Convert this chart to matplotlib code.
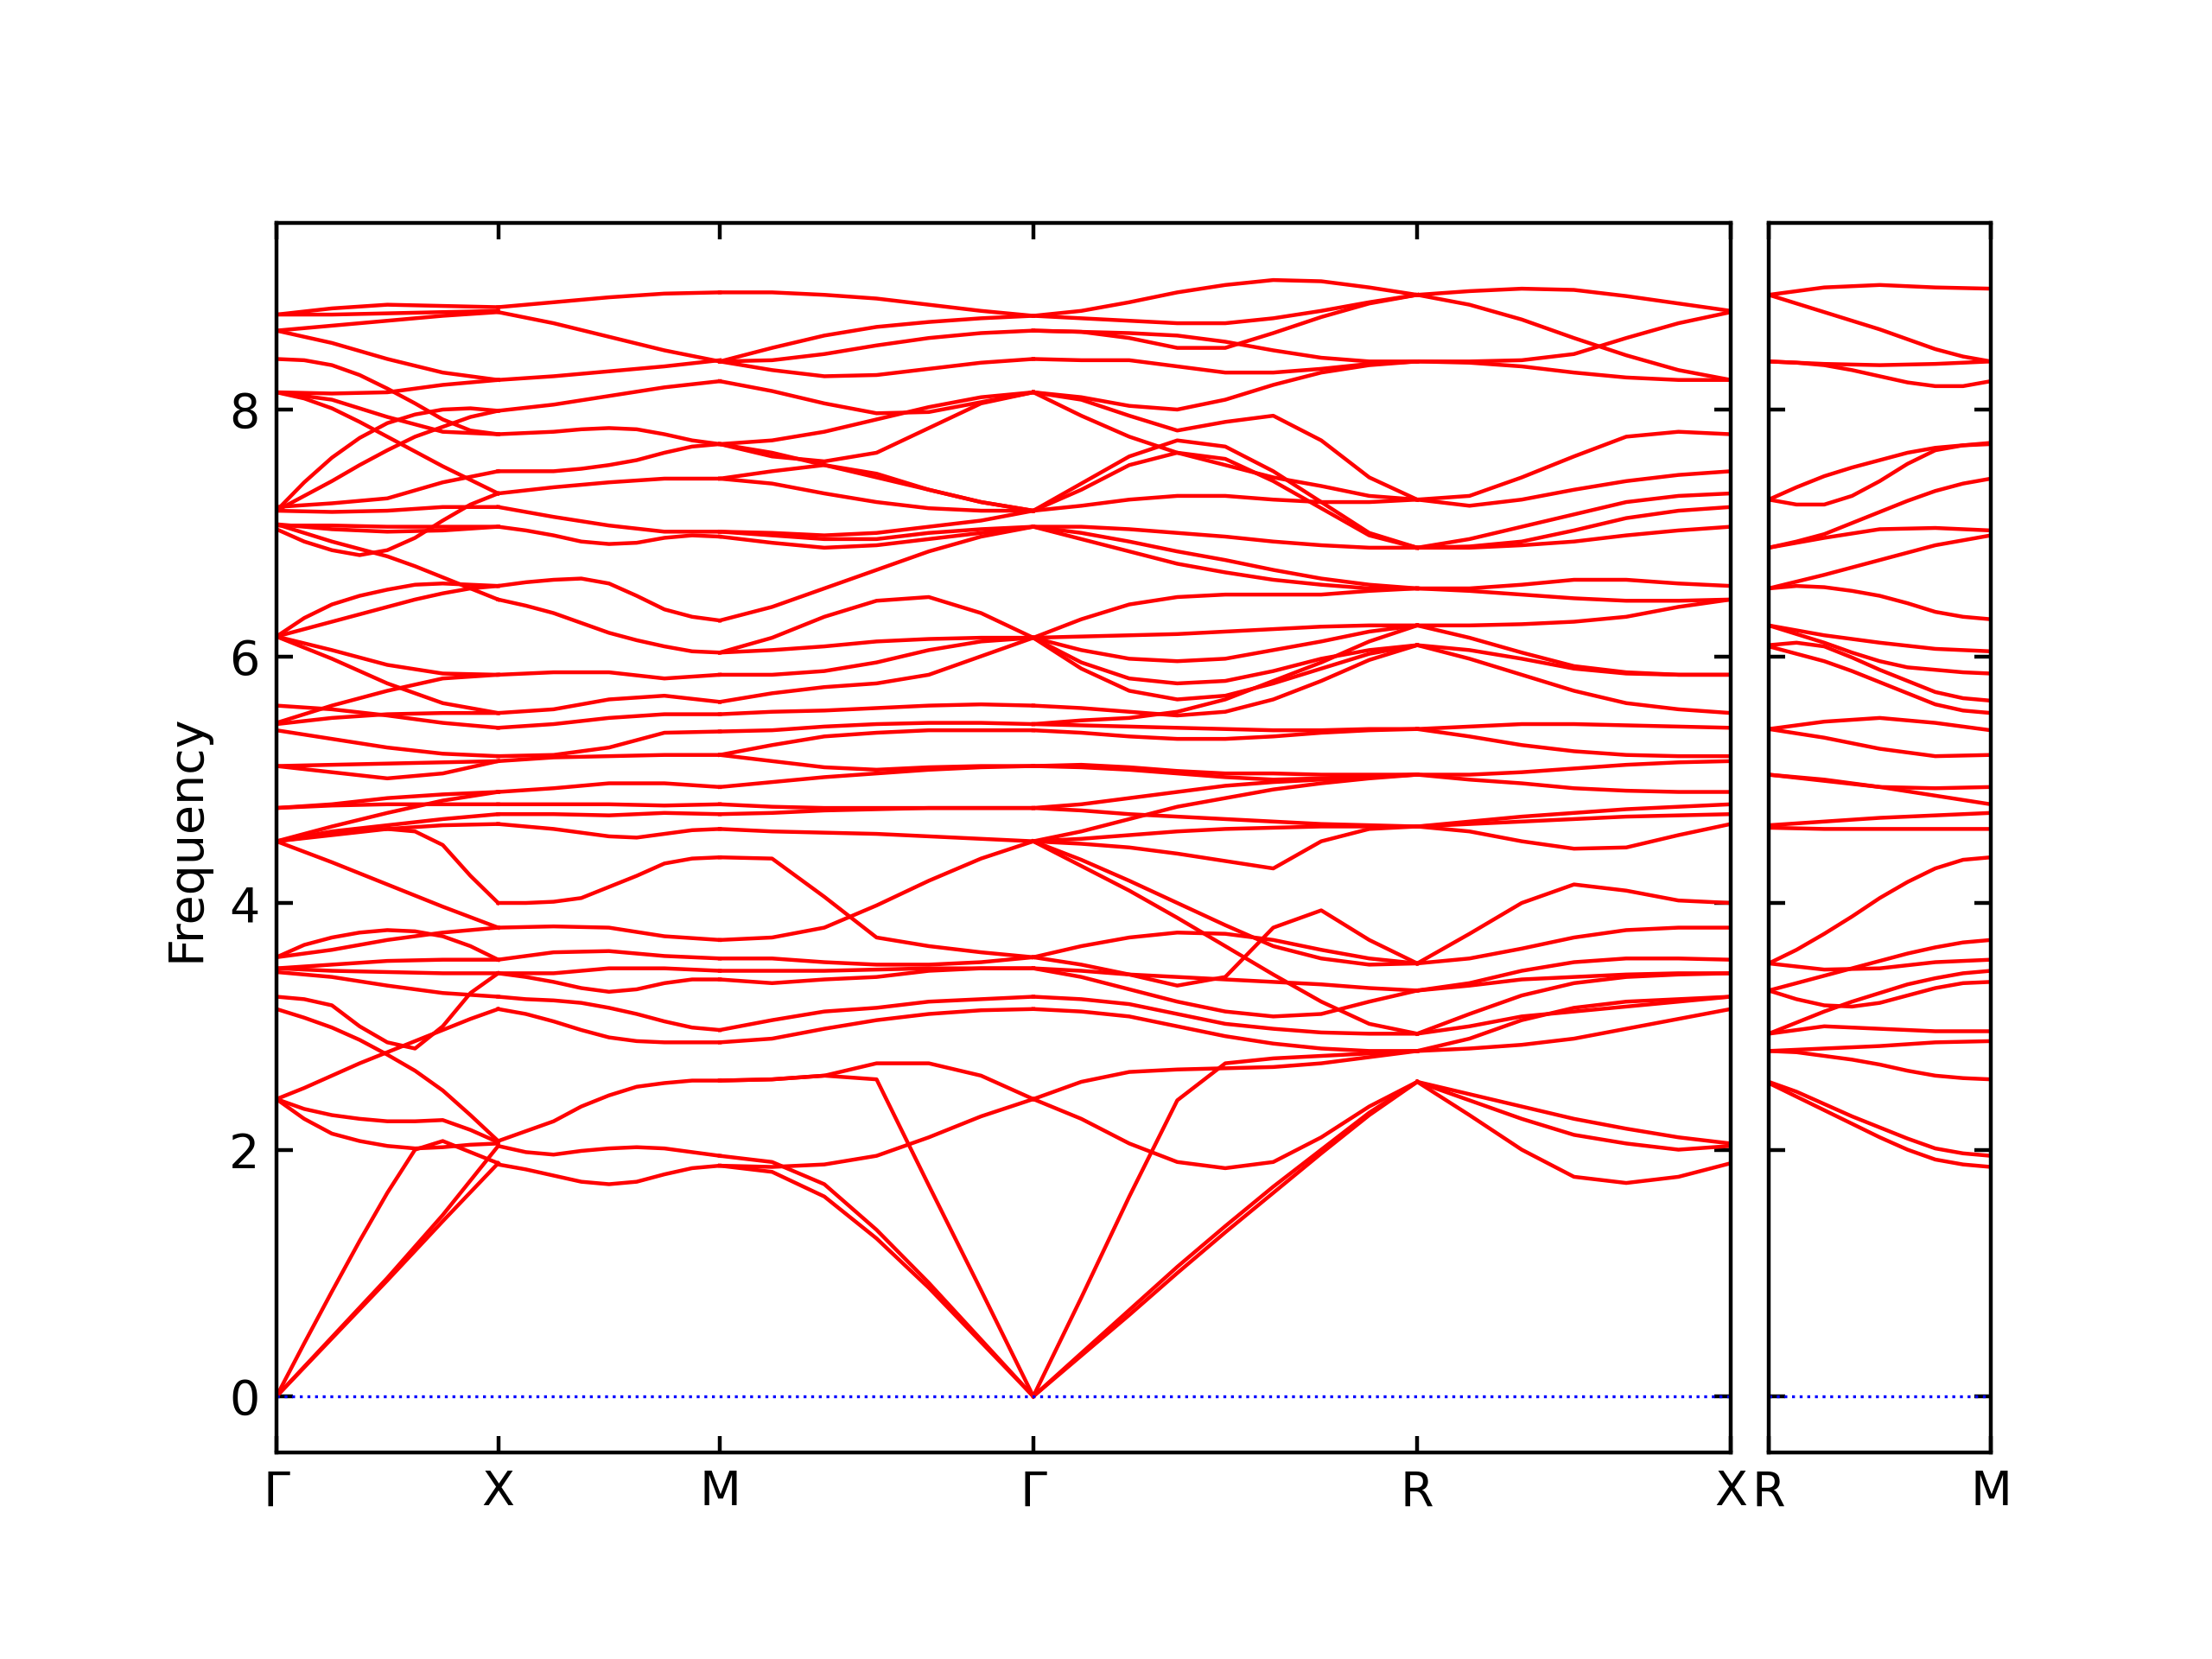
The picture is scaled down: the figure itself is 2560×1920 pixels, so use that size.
import numpy as np
import matplotlib
matplotlib.use('Agg')
import matplotlib.pyplot as plt

# high symmetry path, segment lengths in units of 2pi/a
path_labels = ['Γ', 'X', 'M', 'Γ', 'R', 'X']
seg_len = [1.0, 1.0, np.sqrt(2), np.sqrt(3), np.sqrt(2)]

# band frequencies read along each segment at even steps
gx_bands = [
    [8.77, 8.82, 8.85, 8.84, 8.83],
    [8.77, 8.77, 8.78, 8.79, 8.80],
    [8.64, 8.68, 8.72, 8.76, 8.79],
    [8.64, 8.54, 8.41, 8.30, 8.24],
    [8.41, 8.40, 8.36, 8.28, 8.17, 8.05, 7.92, 7.83, 7.80],
    [8.14, 8.13, 8.14, 8.20, 8.24],
    [8.14, 8.08, 7.94, 7.82, 7.80],
    [8.14, 8.09, 8.01, 7.90, 7.78, 7.66, 7.54, 7.43, 7.32],
    [7.18, 7.41, 7.61, 7.77, 7.89, 7.96, 8.00, 8.01, 7.99],
    [7.18, 7.30, 7.42, 7.55, 7.67, 7.78, 7.86, 7.94, 7.99],
    [7.21, 7.24, 7.28, 7.41, 7.50],
    [7.18, 7.17, 7.18, 7.21, 7.21],
    [7.07, 7.03, 7.01, 7.02, 7.05],
    [7.03, 6.93, 6.86, 6.82, 6.86, 6.96, 7.10, 7.23, 7.32],
    [7.07, 7.00, 6.93, 6.87, 6.81, 6.73, 6.64, 6.55, 6.46],
    [7.06, 7.06, 7.05, 7.05, 7.05],
    [6.16, 6.31, 6.42, 6.49, 6.54, 6.58, 6.59, 6.58, 6.57],
    [6.16, 6.22, 6.28, 6.34, 6.40, 6.46, 6.51, 6.55, 6.57],
    [6.16, 6.05, 5.93, 5.86, 5.85],
    [6.16, 5.98, 5.78, 5.62, 5.54],
    [5.60, 5.57, 5.52, 5.46, 5.42],
    [5.46, 5.60, 5.72, 5.82, 5.85],
    [5.45, 5.50, 5.53, 5.54, 5.54],
    [5.40, 5.33, 5.26, 5.21, 5.19],
    [5.11, 5.12, 5.13, 5.14, 5.15],
    [5.11, 5.06, 5.01, 5.05, 5.15],
    [4.77, 4.80, 4.85, 4.88, 4.90],
    [4.77, 4.79, 4.80, 4.80, 4.80],
    [4.50, 4.62, 4.73, 4.83, 4.90],
    [4.50, 4.55, 4.60, 4.63, 4.64],
    [4.50, 4.58, 4.63, 4.68, 4.72],
    [4.50, 4.53, 4.57, 4.59, 4.60, 4.58, 4.47, 4.22, 4.00],
    [4.50, 4.33, 4.15, 3.97, 3.80],
    [3.56, 3.66, 3.72, 3.76, 3.78, 3.77, 3.73, 3.65, 3.54],
    [3.56, 3.62, 3.70, 3.76, 3.80],
    [3.47, 3.50, 3.53, 3.54, 3.54],
    [3.47, 3.45, 3.44, 3.43, 3.43],
    [3.44, 3.40, 3.33, 3.27, 3.24],
    [3.24, 3.22, 3.17, 3.00, 2.87, 2.82, 3.00, 3.27, 3.43],
    [3.14, 3.07, 2.99, 2.89, 2.77, 2.64, 2.48, 2.28, 2.07],
    [2.41, 2.50, 2.60, 2.70, 2.79, 2.88, 2.97, 3.06, 3.14],
    [2.41, 2.33, 2.28, 2.25, 2.23, 2.23, 2.24, 2.16, 2.06],
    [2.41, 2.25, 2.13, 2.07, 2.03, 2.01, 2.02, 2.04, 2.05],
    [0.00, 0.43, 0.85, 1.26, 1.65, 2.00, 2.07, 1.98, 1.89],
    [0.00, 0.47, 0.94, 1.42, 1.89],
    [0.00, 0.48, 0.96, 1.47, 2.03],
]

xm_bands = [
    [8.83, 8.87, 8.91, 8.94, 8.95],
    [8.79, 8.70, 8.59, 8.48, 8.39],
    [8.24, 8.27, 8.31, 8.35, 8.40],
    [7.99, 8.04, 8.11, 8.18, 8.23],
    [7.80, 7.81, 7.82, 7.84, 7.85, 7.84, 7.80, 7.75, 7.72],
    [7.50, 7.50, 7.50, 7.52, 7.55, 7.59, 7.65, 7.70, 7.72],
    [7.32, 7.37, 7.41, 7.44, 7.44],
    [7.21, 7.13, 7.06, 7.01, 7.01],
    [7.05, 7.02, 6.98, 6.93, 6.91, 6.92, 6.96, 6.98, 6.97],
    [6.57, 6.60, 6.62, 6.63, 6.59, 6.49, 6.38, 6.32, 6.29],
    [6.46, 6.41, 6.35, 6.27, 6.19, 6.13, 6.08, 6.04, 6.03],
    [5.85, 5.87, 5.87, 5.82, 5.85],
    [5.54, 5.57, 5.65, 5.68, 5.63],
    [5.42, 5.45, 5.50, 5.53, 5.53],
    [5.19, 5.20, 5.26, 5.38, 5.39],
    [5.15, 5.18, 5.19, 5.20, 5.20],
    [4.90, 4.93, 4.97, 4.97, 4.94],
    [4.80, 4.80, 4.80, 4.79, 4.80],
    [4.72, 4.72, 4.71, 4.73, 4.72],
    [4.64, 4.62, 4.60, 4.57, 4.54, 4.53, 4.56, 4.59, 4.60],
    [4.00, 4.00, 4.01, 4.04, 4.13, 4.22, 4.32, 4.36, 4.37],
    [3.80, 3.81, 3.80, 3.73, 3.70],
    [3.54, 3.60, 3.61, 3.57, 3.55],
    [3.43, 3.43, 3.47, 3.47, 3.45],
    [3.43, 3.40, 3.36, 3.31, 3.28, 3.30, 3.35, 3.38, 3.38],
    [3.24, 3.22, 3.21, 3.19, 3.15, 3.10, 3.04, 2.99, 2.97],
    [3.14, 3.10, 3.04, 2.97, 2.91, 2.88, 2.87, 2.87, 2.87],
    [2.07, 2.15, 2.23, 2.35, 2.44, 2.51, 2.54, 2.56, 2.56],
    [2.03, 1.98, 1.96, 1.99, 2.01, 2.02, 2.01, 1.98, 1.95],
    [1.88, 1.84, 1.79, 1.74, 1.72, 1.74, 1.80, 1.85, 1.87],
]

mg_bands = [
    [8.95, 8.95, 8.93, 8.90, 8.85, 8.80, 8.76],
    [8.39, 8.50, 8.60, 8.67, 8.71, 8.74, 8.76],
    [8.39, 8.40, 8.45, 8.52, 8.58, 8.62, 8.64],
    [8.39, 8.32, 8.27, 8.28, 8.33, 8.38, 8.41],
    [8.23, 8.15, 8.05, 7.97, 7.98, 8.06, 8.14],
    [7.72, 7.75, 7.82, 7.92, 8.02, 8.10, 8.14],
    [7.72, 7.62, 7.58, 7.65, 7.85, 8.05, 8.14],
    [7.72, 7.65, 7.55, 7.45, 7.35, 7.25, 7.18],
    [7.44, 7.50, 7.55, 7.48, 7.35, 7.25, 7.18],
    [7.44, 7.40, 7.32, 7.25, 7.20, 7.18, 7.18],
    [7.01, 7.00, 6.98, 7.00, 7.05, 7.10, 7.18],
    [6.97, 6.92, 6.88, 6.90, 6.95, 7.00, 7.05],
    [7.01, 6.98, 6.95, 6.95, 7.00, 7.03, 7.05],
    [6.29, 6.40, 6.55, 6.70, 6.85, 6.97, 7.05],
    [6.03, 6.05, 6.08, 6.12, 6.14, 6.15, 6.15],
    [6.03, 6.15, 6.32, 6.45, 6.48, 6.35, 6.15],
    [5.85, 5.85, 5.88, 5.95, 6.05, 6.12, 6.15],
    [5.63, 5.70, 5.75, 5.78, 5.85, 6.00, 6.15],
    [5.53, 5.55, 5.56, 5.58, 5.60, 5.61, 5.60],
    [5.39, 5.40, 5.43, 5.45, 5.46, 5.46, 5.45],
    [5.20, 5.28, 5.35, 5.38, 5.40, 5.40, 5.40],
    [5.20, 5.15, 5.10, 5.08, 5.10, 5.11, 5.11],
    [4.94, 4.98, 5.02, 5.05, 5.08, 5.10, 5.11],
    [4.80, 4.78, 4.77, 4.77, 4.77, 4.77, 4.77],
    [4.72, 4.73, 4.75, 4.76, 4.77, 4.77, 4.77],
    [4.60, 4.58, 4.57, 4.56, 4.54, 4.52, 4.50],
    [4.37, 4.36, 4.05, 3.72, 3.65, 3.60, 3.56],
    [3.70, 3.72, 3.80, 3.98, 4.18, 4.36, 4.50],
    [3.55, 3.55, 3.52, 3.50, 3.50, 3.52, 3.56],
    [3.45, 3.45, 3.45, 3.46, 3.47, 3.47, 3.47],
    [3.38, 3.35, 3.38, 3.40, 3.45, 3.47, 3.47],
    [2.97, 3.05, 3.12, 3.15, 3.20, 3.22, 3.24],
    [2.87, 2.90, 2.98, 3.05, 3.10, 3.13, 3.14],
    [2.56, 2.57, 2.60, 2.70, 2.70, 2.60, 2.41],
    [2.56, 2.57, 2.60, 2.57, 1.71, 0.86, 0.00],
    [1.87, 1.86, 1.88, 1.95, 2.10, 2.27, 2.41],
    [1.95, 1.90, 1.72, 1.35, 0.92, 0.46, 0.00],
    [1.87, 1.82, 1.62, 1.28, 0.88, 0.44, 0.00],
]

gr_bands = [
    [8.76, 8.80, 8.87, 8.95, 9.01, 9.05, 9.04, 8.99, 8.93],
    [8.76, 8.74, 8.72, 8.70, 8.70, 8.74, 8.80, 8.87, 8.93],
    [8.64, 8.63, 8.58, 8.50, 8.50, 8.62, 8.75, 8.86, 8.93],
    [8.64, 8.63, 8.62, 8.60, 8.55, 8.48, 8.42, 8.39, 8.39],
    [8.41, 8.40, 8.40, 8.35, 8.30, 8.30, 8.33, 8.37, 8.39],
    [8.14, 8.10, 8.03, 8.00, 8.08, 8.20, 8.30, 8.36, 8.39],
    [8.14, 8.08, 7.95, 7.83, 7.90, 7.95, 7.75, 7.45, 7.27],
    [8.14, 7.95, 7.78, 7.65, 7.55, 7.45, 7.38, 7.30, 7.27],
    [7.18, 7.40, 7.62, 7.75, 7.70, 7.50, 7.25, 7.00, 6.88],
    [7.18, 7.35, 7.55, 7.65, 7.60, 7.42, 7.20, 6.98, 6.88],
    [7.18, 7.22, 7.27, 7.30, 7.30, 7.27, 7.25, 7.25, 7.27],
    [7.05, 7.05, 7.03, 7.00, 6.97, 6.93, 6.90, 6.88, 6.88],
    [7.05, 7.00, 6.93, 6.85, 6.78, 6.70, 6.63, 6.58, 6.55],
    [7.05, 6.95, 6.85, 6.75, 6.68, 6.62, 6.58, 6.55, 6.55],
    [6.15, 6.30, 6.42, 6.48, 6.50, 6.50, 6.50, 6.53, 6.55],
    [6.15, 6.16, 6.17, 6.18, 6.20, 6.22, 6.24, 6.25, 6.25],
    [6.15, 6.05, 5.98, 5.96, 5.98, 6.05, 6.12, 6.20, 6.25],
    [6.15, 5.95, 5.82, 5.78, 5.80, 5.88, 5.98, 6.05, 6.09],
    [6.15, 5.90, 5.72, 5.65, 5.68, 5.78, 5.90, 6.02, 6.09],
    [5.60, 5.58, 5.55, 5.52, 5.55, 5.65, 5.80, 5.97, 6.09],
    [5.45, 5.48, 5.50, 5.55, 5.65, 5.80, 5.95, 6.12, 6.25],
    [5.45, 5.44, 5.43, 5.42, 5.41, 5.40, 5.40, 5.41, 5.41],
    [5.40, 5.38, 5.35, 5.33, 5.33, 5.35, 5.38, 5.40, 5.41],
    [5.11, 5.10, 5.08, 5.05, 5.02, 5.00, 5.01, 5.03, 5.04],
    [5.11, 5.12, 5.10, 5.07, 5.05, 5.05, 5.04, 5.04, 5.04],
    [4.77, 4.80, 4.85, 4.90, 4.95, 4.98, 5.00, 5.02, 5.04],
    [4.77, 4.75, 4.72, 4.70, 4.68, 4.66, 4.64, 4.63, 4.62],
    [4.50, 4.58, 4.68, 4.78, 4.85, 4.92, 4.97, 5.01, 5.04],
    [4.50, 4.52, 4.55, 4.58, 4.60, 4.61, 4.62, 4.62, 4.62],
    [4.50, 4.48, 4.45, 4.40, 4.34, 4.28, 4.50, 4.60, 4.62],
    [4.50, 4.35, 4.18, 4.00, 3.82, 3.65, 3.55, 3.50, 3.51],
    [4.50, 4.30, 4.10, 3.88, 3.65, 3.42, 3.20, 3.02, 2.94],
    [3.56, 3.65, 3.72, 3.76, 3.75, 3.70, 3.62, 3.55, 3.51],
    [3.56, 3.50, 3.42, 3.33, 3.40, 3.80, 3.94, 3.70, 3.51],
    [3.47, 3.45, 3.42, 3.40, 3.38, 3.36, 3.34, 3.31, 3.29],
    [3.47, 3.40, 3.30, 3.20, 3.12, 3.08, 3.10, 3.20, 3.29],
    [3.24, 3.22, 3.18, 3.10, 3.02, 2.98, 2.95, 2.94, 2.94],
    [3.14, 3.12, 3.08, 3.00, 2.92, 2.86, 2.82, 2.80, 2.80],
    [2.41, 2.55, 2.63, 2.65, 2.66, 2.67, 2.70, 2.75, 2.80],
    [2.41, 2.25, 2.05, 1.90, 1.85, 1.90, 2.10, 2.35, 2.55],
    [0.00, 0.80, 1.62, 2.40, 2.70, 2.74, 2.76, 2.78, 2.80],
    [0.00, 0.35, 0.70, 1.05, 1.38, 1.70, 2.00, 2.30, 2.55],
    [0.00, 0.33, 0.66, 1.00, 1.33, 1.65, 1.97, 2.28, 2.55],
]

rx_bands = [
    [8.93, 8.96, 8.98, 8.97, 8.92, 8.86, 8.80],
    [8.93, 8.85, 8.73, 8.58, 8.44, 8.32, 8.24],
    [8.39, 8.39, 8.40, 8.45, 8.58, 8.70, 8.79],
    [8.39, 8.38, 8.35, 8.30, 8.26, 8.24, 8.24],
    [7.27, 7.30, 7.45, 7.62, 7.78, 7.82, 7.80],
    [7.27, 7.22, 7.27, 7.35, 7.42, 7.47, 7.50],
    [6.88, 6.89, 6.93, 7.02, 7.12, 7.18, 7.21],
    [6.88, 6.95, 7.05, 7.15, 7.25, 7.30, 7.32],
    [6.88, 6.88, 6.90, 6.93, 6.98, 7.02, 7.05],
    [6.55, 6.55, 6.58, 6.62, 6.62, 6.59, 6.57],
    [6.55, 6.53, 6.50, 6.47, 6.45, 6.45, 6.46],
    [6.25, 6.25, 6.26, 6.28, 6.32, 6.40, 6.46],
    [6.25, 6.15, 6.03, 5.92, 5.87, 5.85, 5.85],
    [6.09, 6.05, 5.98, 5.90, 5.86, 5.85, 5.85],
    [6.09, 5.98, 5.85, 5.72, 5.62, 5.57, 5.54],
    [5.41, 5.43, 5.45, 5.45, 5.44, 5.43, 5.42],
    [5.41, 5.35, 5.28, 5.23, 5.20, 5.19, 5.19],
    [5.04, 5.04, 5.06, 5.09, 5.12, 5.14, 5.15],
    [5.04, 5.00, 4.97, 4.93, 4.91, 4.90, 4.90],
    [4.62, 4.66, 4.70, 4.73, 4.76, 4.78, 4.80],
    [4.62, 4.64, 4.66, 4.68, 4.70, 4.71, 4.72],
    [4.62, 4.58, 4.50, 4.44, 4.45, 4.55, 4.64],
    [3.51, 3.75, 4.00, 4.15, 4.10, 4.02, 4.00],
    [3.51, 3.55, 3.63, 3.72, 3.78, 3.80, 3.80],
    [3.29, 3.35, 3.45, 3.52, 3.55, 3.55, 3.54],
    [3.29, 3.33, 3.38, 3.40, 3.42, 3.43, 3.43],
    [2.94, 3.10, 3.25, 3.35, 3.40, 3.42, 3.43],
    [2.94, 3.00, 3.08, 3.12, 3.16, 3.20, 3.24],
    [2.80, 2.82, 2.85, 2.90, 2.98, 3.06, 3.14],
    [2.80, 2.90, 3.05, 3.15, 3.20, 3.22, 3.24],
    [2.55, 2.45, 2.35, 2.25, 2.17, 2.10, 2.05],
    [2.55, 2.28, 2.00, 1.78, 1.73, 1.78, 1.89],
    [2.55, 2.40, 2.25, 2.12, 2.05, 2.00, 2.03],
]

# second panel R-M
rm_bands = [
    [8.93, 8.99, 9.01, 8.99, 8.98],
    [8.93, 8.86, 8.79, 8.72, 8.65, 8.57, 8.49, 8.43, 8.39],
    [8.39, 8.37, 8.36, 8.37, 8.39],
    [8.39, 8.38, 8.36, 8.32, 8.27, 8.22, 8.19, 8.19, 8.23],
    [7.27, 7.37, 7.46, 7.53, 7.59, 7.65, 7.69, 7.71, 7.72],
    [7.27, 7.23, 7.23, 7.30, 7.42, 7.56, 7.67, 7.71, 7.73],
    [6.88, 6.93, 6.99, 7.08, 7.17, 7.26, 7.34, 7.40, 7.44],
    [6.88, 6.96, 7.03, 7.04, 7.02],
    [6.55, 6.66, 6.78, 6.90, 6.98],
    [6.55, 6.57, 6.56, 6.53, 6.49, 6.43, 6.36, 6.32, 6.30],
    [6.25, 6.17, 6.11, 6.06, 6.04],
    [6.25, 6.18, 6.11, 6.03, 5.96, 5.91, 5.89, 5.87, 5.86],
    [6.09, 6.11, 6.08, 5.99, 5.89, 5.80, 5.71, 5.66, 5.64],
    [6.08, 6.02, 5.96, 5.88, 5.79, 5.70, 5.61, 5.56, 5.54],
    [5.41, 5.47, 5.50, 5.46, 5.40],
    [5.41, 5.34, 5.25, 5.19, 5.20],
    [5.04, 5.00, 4.94, 4.87, 4.80],
    [5.04, 4.99, 4.94, 4.93, 4.94],
    [4.63, 4.66, 4.69, 4.71, 4.73],
    [4.61, 4.60, 4.60, 4.60, 4.60],
    [3.51, 3.62, 3.75, 3.89, 4.04, 4.17, 4.28, 4.35, 4.37],
    [3.51, 3.46, 3.47, 3.52, 3.54],
    [3.29, 3.35, 3.41, 3.47, 3.53, 3.59, 3.64, 3.68, 3.70],
    [3.29, 3.22, 3.17, 3.16, 3.19, 3.25, 3.31, 3.35, 3.36],
    [2.94, 3.03, 3.12, 3.20, 3.27, 3.34, 3.39, 3.43, 3.45],
    [2.94, 3.00, 2.98, 2.96, 2.96],
    [2.80, 2.82, 2.84, 2.87, 2.88],
    [2.80, 2.79, 2.76, 2.73, 2.69, 2.64, 2.60, 2.58, 2.57],
    [2.55, 2.47, 2.37, 2.27, 2.18, 2.09, 2.01, 1.97, 1.95],
    [2.54, 2.43, 2.32, 2.21, 2.10, 2.00, 1.92, 1.88, 1.86],
]

main_segments = [gx_bands, xm_bands, mg_bands, gr_bands, rx_bands]
kpos = np.concatenate([[0], np.cumsum(seg_len)])

fig = plt.figure(figsize=(6.4, 4.8), dpi=400)
ax1 = fig.add_axes([320 / 2560, 239 / 1920, 1683 / 2560, 1423 / 1920])
ax2 = fig.add_axes([2047 / 2560, 239 / 1920, 257 / 2560, 1423 / 1920])

for seg, bands in enumerate(main_segments):
    for band in bands:
        t = np.linspace(0, 1, len(band))
        ax1.plot(kpos[seg] + t * seg_len[seg], band, color='red', lw=0.8)

for band in rm_bands:
    t = np.linspace(0, 1, len(band))
    ax2.plot(t, band, color='red', lw=0.8)

for ax in (ax1, ax2):
    ax.axhline(0, color='blue', ls=':', lw=0.6)
    ax.set_ylim(-0.455, 9.513)
    ax.set_yticks([0, 2, 4, 6, 8])
    ax.tick_params(direction='in', top=True, right=True)

ax1.set_xlim(kpos[0], kpos[-1])
ax1.set_xticks(kpos)
ax1.set_xticklabels(path_labels)
ax1.set_ylabel('Frequency')

ax2.set_xlim(0, 1)
ax2.set_xticks([0, 1])
ax2.set_xticklabels(['R', 'M'])
ax2.set_yticklabels([])

fig.savefig('out.png', dpi=400)
